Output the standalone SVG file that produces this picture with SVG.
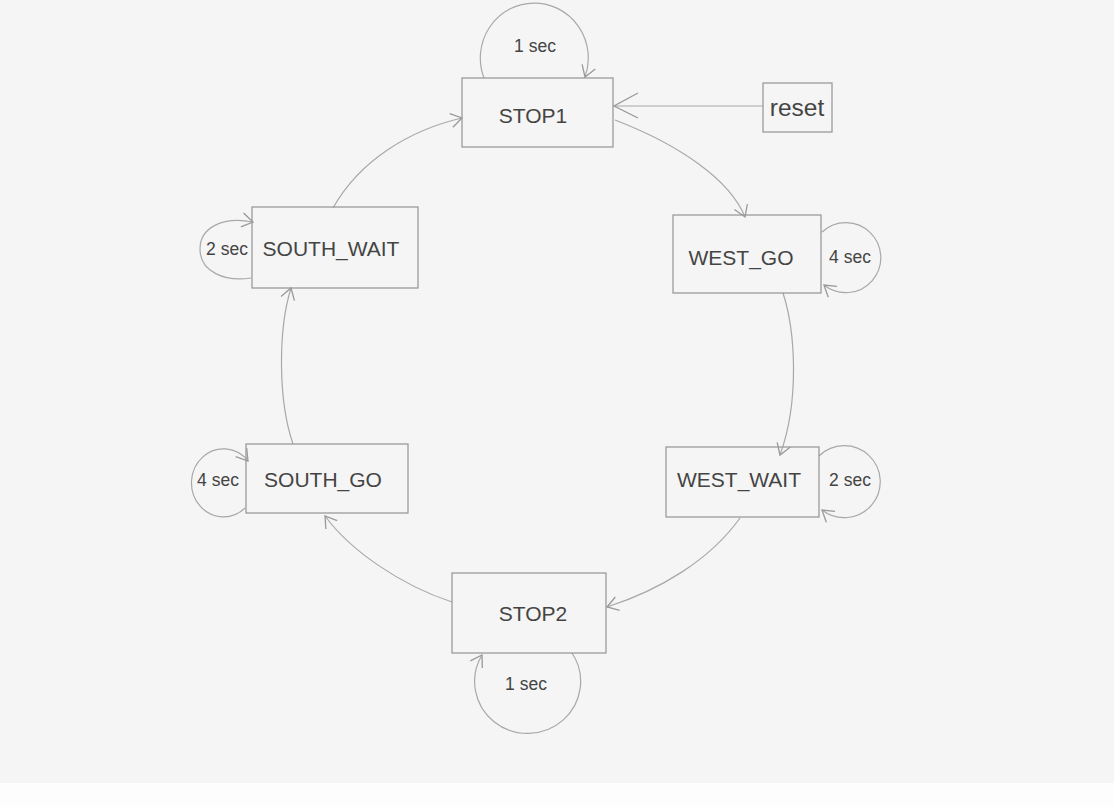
<svg xmlns="http://www.w3.org/2000/svg" width="1114" height="807" viewBox="0 0 1114 807">
<style>
.box{fill:none;stroke:#9a9a9a;stroke-width:1.3}
.lbl{font-family:"Liberation Sans",Arial,sans-serif;font-size:21px;fill:#444;text-anchor:middle;dominant-baseline:central}
.sec{font-family:"Liberation Sans",Arial,sans-serif;font-size:17.5px;fill:#444;text-anchor:middle;dominant-baseline:central}
.rst{font-family:"Liberation Sans",Arial,sans-serif;font-size:24.5px;fill:#444;text-anchor:middle;dominant-baseline:central}
.edge{fill:none;stroke:#a8a8a8;stroke-width:1.2}
</style>
<defs>
<marker id="arr" viewBox="-14 -10 16 20" refX="0" refY="0" markerWidth="16" markerHeight="20" orient="auto" markerUnits="userSpaceOnUse">
<path d="M -11 -7 L 0 0 L -11 7" fill="none" stroke="#999" stroke-width="1.3"/>
</marker>
<marker id="big" viewBox="-26 -15 28 30" refX="0" refY="0" markerWidth="28" markerHeight="30" orient="auto" markerUnits="userSpaceOnUse">
<path d="M -24 -12 L 0 0 L -24 13" fill="none" stroke="#999" stroke-width="1.3"/>
</marker>
</defs>
<rect x="0" y="0" width="1114" height="807" fill="#f5f5f5"/>
<rect x="0" y="783" width="1114" height="24" fill="#fdfdfd"/>

<g id="connectors">
<path class="edge" d="M 484 78 A 54 55 0 1 1 585 77" marker-end="url(#arr)"/>
<path class="edge" d="M 763 106 L 614 106" marker-end="url(#big)"/>
<path class="edge" d="M 615 120 C 680 145 730 180 745 217" marker-end="url(#arr)"/>
<path class="edge" d="M 822 232 A 35 35 0 1 1 824 285" marker-end="url(#arr)"/>
<path class="edge" d="M 783 293 C 795 330 800 400 780 455" marker-end="url(#arr)"/>
<path class="edge" d="M 819 456 A 36 36 0 1 1 822 510" marker-end="url(#arr)"/>
<path class="edge" d="M 740 518 C 710 560 660 590 607 607" marker-end="url(#arr)"/>
<path class="edge" d="M 572 653 A 53 52 0 1 1 482 655" marker-end="url(#arr)"/>
<path class="edge" d="M 452 602 C 400 585 350 550 325 516" marker-end="url(#arr)"/>
<path class="edge" d="M 245 508 A 32 34 0 1 1 248 461" marker-end="url(#arr)"/>
<path class="edge" d="M 293 444 C 278 400 278 330 291 288" marker-end="url(#arr)"/>
<path class="edge" d="M 251 278 C 225 282 200 272 200 249 C 200 228 222 216 253 222" marker-end="url(#arr)"/>
<path class="edge" d="M 333 208 C 360 160 410 130 462 118" marker-end="url(#arr)"/>
<text class="sec" x="535" y="46">1 sec</text>
<text class="sec" x="850" y="257">4 sec</text>
<text class="sec" x="850" y="480">2 sec</text>
<text class="sec" x="526" y="684">1 sec</text>
<text class="sec" x="218" y="480">4 sec</text>
<text class="sec" x="227" y="249">2 sec</text>
</g>

<g id="STOP1"><rect class="box" x="462" y="78" width="151" height="69"/><text class="lbl" x="533" y="115">STOP1</text></g>
<g id="reset"><rect class="box" x="763" y="83" width="69" height="49"/><text class="rst" x="797" y="107">reset</text></g>
<g id="WEST_GO"><rect class="box" x="673" y="215" width="148" height="78"/><text class="lbl" x="741" y="257">WEST_GO</text></g>
<g id="WEST_WAIT"><rect class="box" x="666" y="447" width="153" height="70"/><text class="lbl" x="739" y="479">WEST_WAIT</text></g>
<g id="STOP2"><rect class="box" x="452" y="573" width="154" height="80"/><text class="lbl" x="533" y="613">STOP2</text></g>
<g id="SOUTH_GO"><rect class="box" x="246" y="444" width="162" height="69"/><text class="lbl" x="323" y="479">SOUTH_GO</text></g>
<g id="SOUTH_WAIT"><rect class="box" x="252" y="207" width="166" height="81"/><text class="lbl" x="331" y="248">SOUTH_WAIT</text></g>
</svg>
